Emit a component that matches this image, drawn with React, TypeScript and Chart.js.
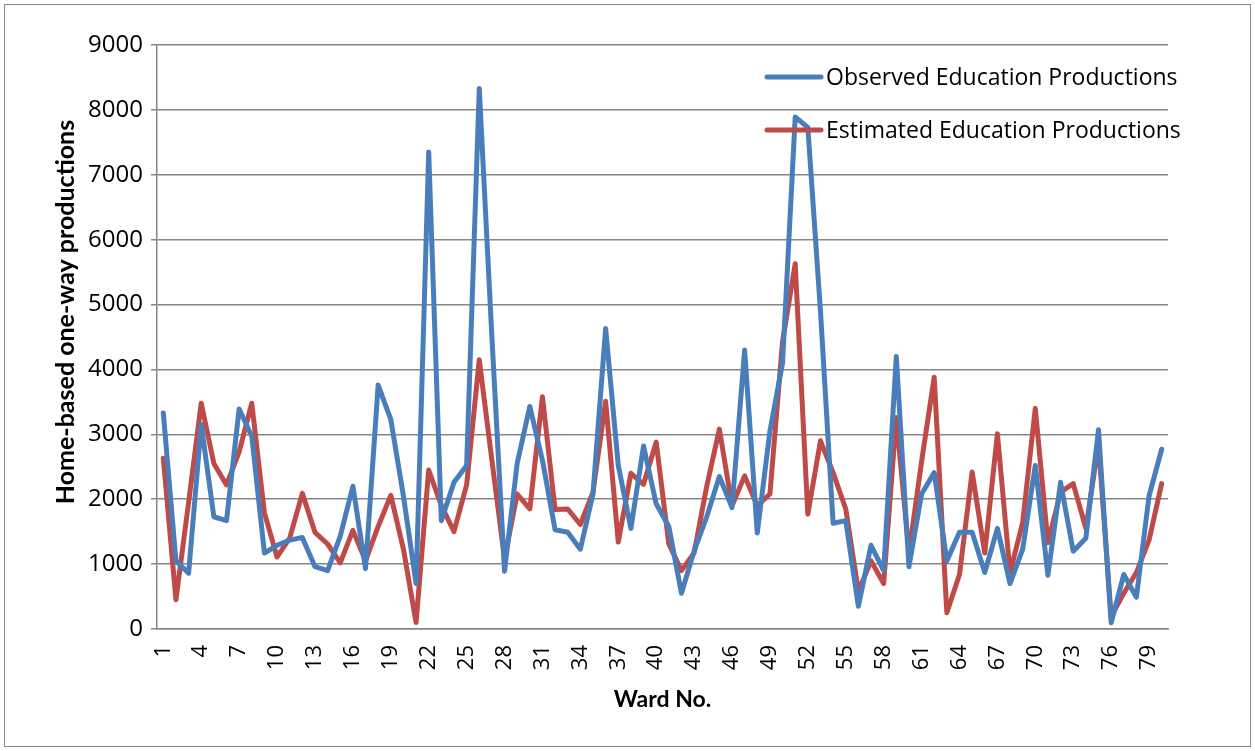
import React, { useEffect, useRef } from "react";
import { Chart, registerables } from "chart.js";

Chart.register(...registerables);

const wards: string[] = Array.from({ length: 80 }, (_, i) => String(i + 1));

const observed: number[] = [
  3330, 1050, 860, 3150, 1730, 1670, 3390, 2970, 1170, 1290,
  1370, 1410, 960, 900, 1430, 2200, 930, 3760, 3230, 2050,
  700, 7350, 1670, 2260, 2520, 8330, 4500, 890, 2550, 3430,
  2600, 1530, 1490, 1230, 2080, 4630, 2520, 1550, 2820, 1930,
  1580, 550, 1200, 1730, 2350, 1870, 4300, 1480, 3050, 4100,
  7890, 7730, 4900, 1630, 1670, 350, 1290, 900, 4200, 960,
  2080, 2410, 1050, 1490, 1490, 870, 1550, 700, 1230, 2520,
  830, 2260, 1200, 1400, 3070, 95, 840, 490, 2050, 2770,
];

const estimated: number[] = [
  2630, 450, 1950, 3480, 2550, 2220, 2730, 3480, 1790, 1110,
  1400, 2090, 1490, 1310, 1020, 1520, 1050, 1580, 2060, 1230,
  100, 2450, 1900, 1500, 2220, 4150, 2600, 1080, 2080, 1850,
  3580, 1840, 1850, 1610, 2110, 3510, 1340, 2400, 2230, 2880,
  1310, 900, 1170, 2200, 3080, 1900, 2360, 1900, 2080, 4430,
  5630, 1770, 2900, 2410, 1850, 580, 1050, 700, 3260, 1170,
  2580, 3880, 250, 840, 2420, 1170, 3010, 870, 1640, 3400,
  1330, 2110, 2240, 1550, 2850, 190, 550, 870, 1370, 2240,
];

const seriesNames: string[] = [
  "Observed Education Productions",
  "Estimated Education Productions",
];
const seriesColors: string[] = ["#4A7EBB", "#BE4B48"];

const yTitle = "Home-based one-way productions";
const xTitle = "Ward No.";

const FONT = "'Open Sans', 'Liberation Sans', sans-serif";
const BOLD_FONT = "Lato, 'Open Sans', sans-serif";

export default function App() {
  const ref = useRef<HTMLCanvasElement | null>(null);

  useEffect(() => {
    document.body.style.margin = "0";
    const canvas = ref.current;
    if (!canvas) return;

    const framePlugin = {
      id: "frame",
      beforeDraw(chart: any) {
        const ctx = chart.ctx;
        ctx.save();
        ctx.fillStyle = "#ffffff";
        ctx.fillRect(0, 0, chart.width, chart.height);
        ctx.strokeStyle = "#868686";
        ctx.lineWidth = 1;
        ctx.strokeRect(4.5, 4.5, chart.width - 9, chart.height - 9);
        ctx.restore();
      },
      afterDraw(chart: any) {
        const ctx = chart.ctx;
        const area = chart.chartArea;
        ctx.save();
        // y-axis title
        ctx.save();
        ctx.translate(66, 312);
        ctx.rotate(-Math.PI / 2);
        ctx.font = `bold 25px ${BOLD_FONT}`;
        ctx.fillStyle = "#000000";
        ctx.textAlign = "center";
        ctx.textBaseline = "middle";
        ctx.fillText(yTitle, 0, 0);
        ctx.restore();
        // legend
        ctx.font = `23px ${FONT}`;
        ctx.textBaseline = "middle";
        ctx.textAlign = "left";
        const x0 = area.left + 610;
        const ys = [area.top + 32, area.top + 85];
        chart.data.datasets.forEach((ds: any, i: number) => {
          ctx.strokeStyle = ds.borderColor;
          ctx.lineWidth = 5;
          ctx.lineCap = "round";
          ctx.beginPath();
          ctx.moveTo(x0, ys[i]);
          ctx.lineTo(x0 + 54, ys[i]);
          ctx.stroke();
          ctx.fillStyle = "#000000";
          ctx.fillText(ds.label, x0 + 59, ys[i] + 1);
        });
        ctx.restore();
      },
    };

    const chart = new Chart(canvas, {
      type: "line",
      data: {
        labels: wards,
        datasets: [
          {
            label: seriesNames[0],
            data: observed,
            borderColor: seriesColors[0],
            backgroundColor: seriesColors[0],
            borderWidth: 5,
            pointRadius: 0,
            tension: 0,
            borderJoinStyle: "round",
            borderCapStyle: "round",
          },
          {
            label: seriesNames[1],
            data: estimated,
            borderColor: seriesColors[1],
            backgroundColor: seriesColors[1],
            borderWidth: 5,
            pointRadius: 0,
            tension: 0,
            borderJoinStyle: "round",
            borderCapStyle: "round",
          },
        ],
      },
      options: {
        responsive: false,
        animation: false,
        devicePixelRatio: 1,
        layout: { padding: { left: 52, right: 87, top: 45, bottom: 34 } },
        plugins: {
          legend: { display: false },
          tooltip: { enabled: false },
        },
        scales: {
          x: {
            type: "category",
            offset: true,
            grid: { display: false },
            border: { display: true, color: "#868686", width: 1.5 },
            ticks: {
              autoSkip: false,
              maxRotation: 90,
              minRotation: 90,
              padding: 8,
              color: "#000000",
              font: { family: FONT, size: 22 },
              callback: (_v: any, i: number) => (i % 3 === 0 ? wards[i] : ""),
            },
            title: {
              display: true,
              text: xTitle,
              color: "#000000",
              font: { family: BOLD_FONT, size: 23, weight: "bold" },
              padding: { top: 0, bottom: 4 },
            },
            afterFit: (scale: any) => {
              scale.height = 88;
            },
          },
          y: {
            min: 0,
            max: 9000,
            ticks: {
              stepSize: 1000,
              padding: 8,
              color: "#000000",
              font: { family: FONT, size: 24 },
              callback: (v: any) => String(v),
            },
            grid: {
              color: "#868686",
              lineWidth: 1.5,
              drawTicks: true,
              tickLength: 6,
            },
            border: { display: true, color: "#868686", width: 1.5 },
            title: { display: false },
            afterFit: (scale: any) => {
              scale.width = 105;
            },
          },
        },
      },
      plugins: [framePlugin],
    });

    return () => chart.destroy();
  }, []);

  return (
    <div style={{ width: 1255, height: 751 }}>
      <canvas ref={ref} width={1255} height={751} style={{ display: "block" }} />
    </div>
  );
}
